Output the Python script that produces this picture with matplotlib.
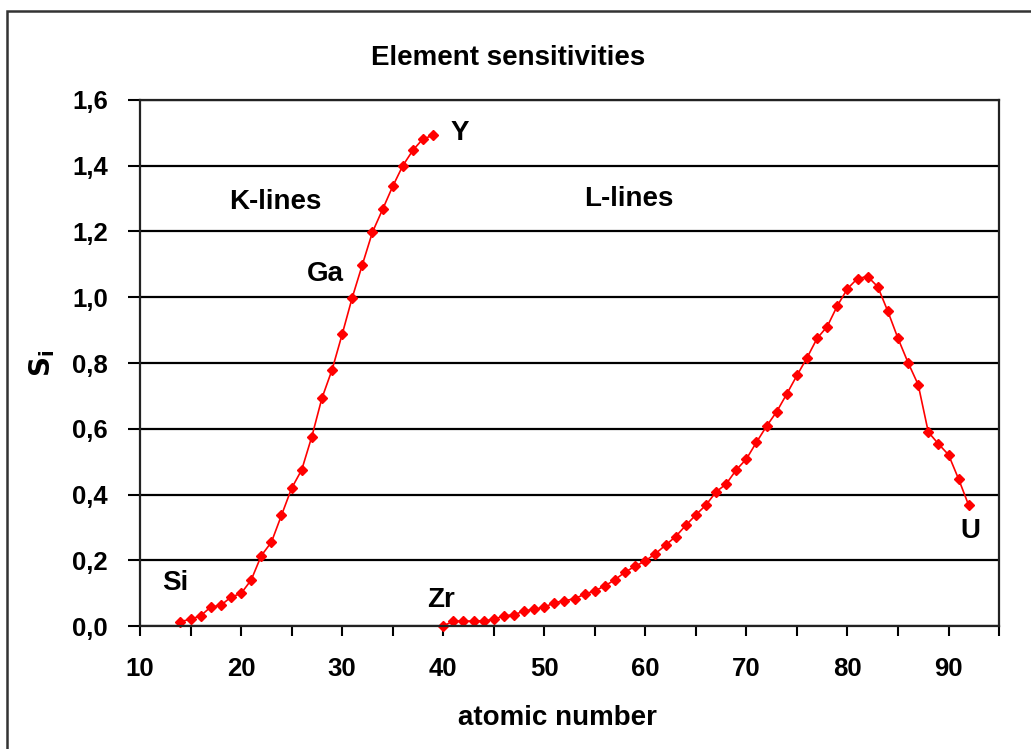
import numpy as np
import matplotlib.pyplot as plt
from matplotlib.patches import Rectangle

plt.rcParams['font.family'] = ['Liberation Sans', 'DejaVu Sans']
plt.rcParams['font.weight'] = 'bold'

# K-lines: Si (14) .. Y (39)
z_k = list(range(14, 40))
s_k = [0.013, 0.021, 0.031, 0.058, 0.063, 0.088, 0.099, 0.140, 0.214, 0.255,
       0.337, 0.419, 0.475, 0.576, 0.693, 0.779, 0.887, 0.999, 1.099, 1.198,
       1.267, 1.337, 1.400, 1.447, 1.482, 1.492]

# L-lines: Zr (40) .. U (92)
z_l = list(range(40, 93))
s_l = [0.0, 0.015, 0.015, 0.015, 0.016, 0.020, 0.031, 0.034, 0.046, 0.051,
       0.057, 0.071, 0.077, 0.083, 0.097, 0.107, 0.122, 0.141, 0.164, 0.182,
       0.198, 0.220, 0.246, 0.272, 0.306, 0.338, 0.368, 0.408, 0.432, 0.475,
       0.508, 0.559, 0.608, 0.652, 0.706, 0.762, 0.816, 0.875, 0.911, 0.974,
       1.026, 1.057, 1.063, 1.032, 0.957, 0.875, 0.801, 0.734, 0.590, 0.554,
       0.521, 0.447, 0.367]

y_ticks = [0.0, 0.2, 0.4, 0.6, 0.8, 1.0, 1.2, 1.4, 1.6]
y_labels = ["0,0", "0,2", "0,4", "0,6", "0,8", "1,0", "1,2", "1,4", "1,6"]
x_ticks = list(range(10, 100, 5))
x_labels = [str(v) if v % 10 == 0 and v < 95 else "" for v in x_ticks]

# element labels (text, z, s)
labels = [("Si", 13.5, 0.13), ("Ga", 28.3, 1.07), ("Y", 41.6, 1.50),
          ("Zr", 39.8, 0.08), ("U", 92.2, 0.29)]

fig = plt.figure(figsize=(10.31, 7.49), dpi=100)
fig.patches.append(Rectangle((0.0068, -0.05), 1.2, 0.985 + 0.05,
                             transform=fig.transFigure, fill=False,
                             edgecolor='#333333', lw=1.8))
ax = fig.add_axes([0.1358, 0.1642, 0.8332, 0.7023])

ax.plot(z_k, s_k, color='red', lw=1.2, marker='D', ms=5, clip_on=False)
ax.plot(z_l, s_l, color='red', lw=1.2, marker='D', ms=5, clip_on=False)

ax.set_xlim(10, 95)
ax.set_ylim(0, 1.6)
ax.set_xticks(x_ticks)
ax.set_xticklabels(x_labels)
ax.set_yticks(y_ticks)
ax.set_yticklabels(y_labels)
ax.tick_params(axis='both', labelsize=18.5, width=1.5, direction='out')
ax.tick_params(axis='x', length=7, pad=15)
ax.tick_params(axis='y', length=9, pad=14)
ax.yaxis.grid(True, color='black', lw=1.6)
ax.set_axisbelow(True)
for sp in ax.spines.values():
    sp.set_linewidth(1.6)
    sp.set_color('#222222')

fig.text(508 / 1031, 1 - 58 / 749, "Element sensitivities", fontsize=20,
         fontweight='bold', ha='center', va='center')
fig.text(557 / 1031, 1 - 718 / 749, "atomic number", fontsize=20,
         fontweight='bold', ha='center', va='center')
ax.set_ylabel(r"$\mathbf{S_i}$", fontsize=20, labelpad=11)

ax.text(23.4, 1.29, "K-lines", fontsize=20, ha='center', va='center')
ax.text(58.4, 1.30, "L-lines", fontsize=20, ha='center', va='center')
for t, zx, sy in labels:
    ax.text(zx, sy, t, fontsize=20, ha='center', va='center')

fig.savefig("out.png", dpi=100)
